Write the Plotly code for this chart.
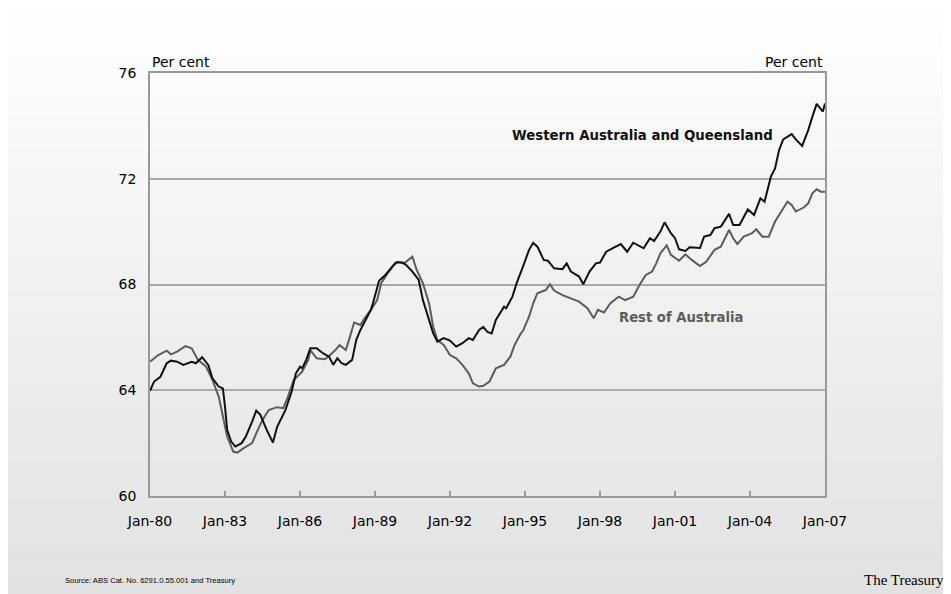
import plotly.graph_objects as go

# Employment-to-population style ratio, per cent
wa_dates = ["1980-01", "1980-03", "1980-06", "1980-09", "1980-11", "1981-02", "1981-05", "1981-09",
            "1981-11", "1982-02", "1982-05", "1982-07", "1982-10", "1982-12", "1983-01", "1983-02",
            "1983-04", "1983-06", "1983-09", "1983-11", "1984-02", "1984-04", "1984-06", "1984-09",
            "1984-12", "1985-02", "1985-06", "1985-09", "1985-11", "1986-01", "1986-02", "1986-04",
            "1986-06", "1986-09", "1986-12", "1987-03", "1987-05", "1987-07", "1987-09", "1987-11",
            "1988-02", "1988-04", "1988-06", "1988-08", "1988-11", "1988-12", "1989-02", "1989-03",
            "1989-06", "1989-08", "1989-11", "1990-02", "1990-04", "1990-07", "1990-10", "1990-12",
            "1991-03", "1991-05", "1991-07", "1991-10", "1992-01", "1992-04", "1992-07", "1992-10",
            "1992-12", "1993-03", "1993-05", "1993-07", "1993-09", "1993-11", "1994-03", "1994-04",
            "1994-07", "1994-09", "1994-12", "1995-03", "1995-05", "1995-07", "1995-10", "1995-12",
            "1996-03", "1996-07", "1996-09", "1996-11", "1997-03", "1997-05", "1997-08", "1997-11",
            "1998-01", "1998-04", "1998-07", "1998-11", "1999-02", "1999-05", "1999-10", "2000-01",
            "2000-03", "2000-06", "2000-08", "2000-11", "2001-01", "2001-03", "2001-06", "2001-08",
            "2002-01", "2002-03", "2002-06", "2002-08", "2002-11", "2003-03", "2003-05", "2003-08",
            "2003-12", "2004-03", "2004-06", "2004-08", "2004-11", "2005-01", "2005-03", "2005-05",
            "2005-09", "2005-11", "2006-02", "2006-05", "2006-07", "2006-09", "2006-12", "2007-01"]
wa_values = [63.98, 64.33, 64.51, 65.02, 65.12, 65.08, 64.96, 65.08,
             65.02, 65.25, 64.96, 64.45, 64.14, 64.07, 63.38, 62.50,
             62.06, 61.87, 62.00, 62.25, 62.81, 63.23, 63.07, 62.50,
             62.02, 62.62, 63.25, 63.95, 64.64, 64.89, 64.83, 65.15,
             65.59, 65.59, 65.40, 65.27, 64.96, 65.21, 65.02, 64.96,
             65.15, 65.90, 66.28, 66.59, 67.04, 67.29, 67.92, 68.14,
             68.36, 68.55, 68.83, 68.83, 68.74, 68.49, 68.17, 67.41,
             66.66, 66.15, 65.84, 65.97, 65.88, 65.65, 65.78, 65.97,
             65.90, 66.28, 66.40, 66.21, 66.15, 66.66, 67.16, 67.10,
             67.54, 68.05, 68.67, 69.31, 69.58, 69.43, 68.93, 68.90,
             68.61, 68.58, 68.80, 68.49, 68.30, 68.01, 68.49, 68.80,
             68.83, 69.24, 69.37, 69.53, 69.24, 69.58, 69.37, 69.75,
             69.64, 70.00, 70.35, 69.94, 69.75, 69.33, 69.27, 69.41,
             69.38, 69.81, 69.87, 70.13, 70.19, 70.67, 70.25, 70.25,
             70.84, 70.63, 71.26, 71.13, 72.08, 72.39, 73.09, 73.49,
             73.69, 73.49, 73.24, 73.84, 74.35, 74.83, 74.54, 74.85]

rest_dates = ["1980-01", "1980-05", "1980-09", "1980-11", "1981-02", "1981-06", "1981-09", "1981-12",
              "1982-04", "1982-07", "1982-10", "1982-12", "1983-02", "1983-05", "1983-07", "1983-10",
              "1984-02", "1984-04", "1984-07", "1984-10", "1985-02", "1985-05", "1985-07", "1985-10",
              "1986-02", "1986-05", "1986-06", "1986-09", "1987-01", "1987-03", "1987-06", "1987-08",
              "1987-11", "1988-01", "1988-03", "1988-06", "1988-08", "1988-11", "1989-02", "1989-04",
              "1989-07", "1989-10", "1989-12", "1990-03", "1990-07", "1990-09", "1990-12", "1991-03",
              "1991-05", "1991-07", "1991-10", "1992-01", "1992-04", "1992-07", "1992-10", "1992-12",
              "1993-03", "1993-05", "1993-08", "1993-11", "1994-03", "1994-06", "1994-08", "1994-11",
              "1994-12", "1995-03", "1995-05", "1995-07", "1995-11", "1996-01", "1996-03", "1996-07",
              "1996-11", "1997-03", "1997-07", "1997-10", "1997-12", "1998-03", "1998-06", "1998-10",
              "1999-01", "1999-05", "1999-08", "1999-11", "2000-02", "2000-04", "2000-06", "2000-09",
              "2000-11", "2001-03", "2001-06", "2001-09", "2002-01", "2002-04", "2002-08", "2002-11",
              "2003-03", "2003-05", "2003-07", "2003-10", "2004-02", "2004-04", "2004-07", "2004-10",
              "2005-01", "2005-04", "2005-07", "2005-09", "2005-11", "2006-03", "2006-05", "2006-07",
              "2006-09", "2006-11", "2007-01"]
rest_values = [65.08, 65.33, 65.50, 65.36, 65.46, 65.67, 65.59, 65.15,
               64.89, 64.39, 63.76, 63.00, 62.25, 61.68, 61.64, 61.81,
               62.00, 62.37, 62.88, 63.25, 63.36, 63.32, 63.70, 64.39,
               64.70, 65.15, 65.52, 65.21, 65.17, 65.30, 65.52, 65.71,
               65.52, 66.03, 66.56, 66.47, 66.72, 67.04, 67.41, 68.05,
               68.42, 68.74, 68.86, 68.80, 69.05, 68.55, 68.05, 67.29,
               66.40, 65.90, 65.71, 65.33, 65.21, 64.96, 64.64, 64.26,
               64.14, 64.17, 64.33, 64.83, 64.96, 65.27, 65.71, 66.15,
               66.24, 66.78, 67.29, 67.67, 67.79, 68.01, 67.77, 67.60,
               67.48, 67.35, 67.10, 66.72, 67.04, 66.94, 67.29, 67.54,
               67.41, 67.54, 67.98, 68.36, 68.49, 68.80, 69.18, 69.48,
               69.12, 68.90, 69.14, 68.93, 68.70, 68.86, 69.31, 69.43,
               70.06, 69.75, 69.53, 69.81, 69.94, 70.09, 69.81, 69.81,
               70.38, 70.76, 71.13, 71.01, 70.76, 70.92, 71.07, 71.45,
               71.60, 71.51, 71.51]

# the page body adds an 8px offset, so the figure is a bit smaller than the window
W, H = 943, 586
L, R, T, B = 142, 126, 65, 98
PW, PH = W - L - R, H - T - B
OFF = 8

FONT = "DejaVu Sans, Liberation Sans, Arial"

fig = go.Figure()
fig.add_trace(go.Scatter(x=rest_dates, y=rest_values, mode="lines", name="Rest of Australia",
                         line=dict(color="#5c5c5c", width=2)))
fig.add_trace(go.Scatter(x=wa_dates, y=wa_values, mode="lines", name="Western Australia and Queensland",
                         line=dict(color="#111111", width=2)))

# slide-style vertical gradient background
shapes = []
step = 11
for top in range(0, H, step):
    mid = top + OFF + step / 2
    c = round(255 - 29 * mid / 594)
    shapes.append(dict(type="rect", xref="paper", yref="paper", layer="below",
                       x0=-L / PW - 0.01, x1=(W - L) / PW + 0.01,
                       y0=(H - B - top - step - 1) / PH, y1=(H - B - top + 1) / PH,
                       line=dict(width=0), fillcolor=f"rgb({c},{c},{c})"))

fig.update_layout(
    width=W, height=H,
    margin=dict(l=L, r=R, t=T, b=B),
    paper_bgcolor="rgba(0,0,0,0)", plot_bgcolor="rgba(0,0,0,0)",
    showlegend=False,
    font=dict(family=FONT, size=14, color="#000000"),
    shapes=shapes,
    xaxis=dict(type="date", range=["1980-01-01", "2007-01-01"], tick0="1980-01-01", dtick="M36",
               tickformat="%b-%y", ticks="inside", ticklen=5, tickwidth=1.5, tickcolor="#999999",
               ticklabelstandoff=11,
               showgrid=False, showline=True, linecolor="#999999", linewidth=1.5, mirror=True,
               zeroline=False),
    yaxis=dict(range=[60, 76], dtick=4, tick0=60, ticks="", showgrid=True, gridcolor="#aaaaaa",
               gridwidth=1.5, showline=True, linecolor="#999999", linewidth=1.5, mirror=True,
               zeroline=False, ticklabelstandoff=9),
    yaxis2=dict(range=[60, 76], dtick=4, tick0=60, overlaying="y", side="right", ticks="",
                showgrid=False, showline=False, zeroline=False, ticklabelstandoff=12),
)

src_y = (H - B - (580 - OFF)) / PH
ann = [
    dict(text="Per cent", xref="paper", yref="paper", x=0, y=1, xanchor="left", yanchor="bottom",
         yshift=1, showarrow=False),
    dict(text="Per cent", xref="paper", yref="paper", x=1, y=1, xanchor="right", yanchor="bottom",
         yshift=1, showarrow=False),
    dict(text="<b>Western Australia and Queensland</b>", x="1999-09-20", y=73.62, showarrow=False,
         font=dict(size=13.3, color="#111111")),
    dict(text="<b>Rest of Australia</b>", x="2001-03-28", y=66.75, showarrow=False,
         font=dict(size=13.2, color="#5c5c5c")),
    dict(text="Source: ABS Cat. No. 6291.0.55.001 and Treasury", xref="paper", yref="paper",
         x=(63 - OFF - L) / PW, y=src_y, xanchor="left", yanchor="middle", showarrow=False,
         font=dict(family="Liberation Sans, Arial", size=7.6)),
    dict(text="The Treasury", xref="paper", yref="paper", x=(862 - OFF - L) / PW, y=src_y,
         xanchor="left", yanchor="middle", showarrow=False,
         font=dict(family="Liberation Serif, Times New Roman, serif", size=15)),
]
fig.update_layout(annotations=ann)

fig.write_html("out.html")
